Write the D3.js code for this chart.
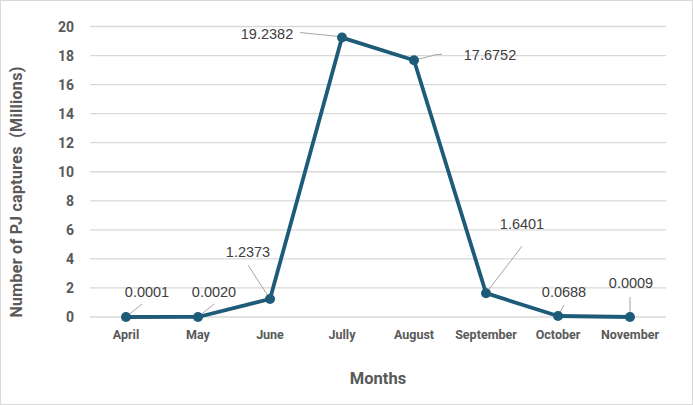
<!DOCTYPE html>
<html>
<head>
<meta charset="utf-8">
<script src="https://cdn.jsdelivr.net/npm/d3@7"></script>
<style>
  html, body { margin: 0; padding: 0; background: #fff; }
  svg { display: block; }
</style>
</head>
<body>
<script>
// ---- data ----
const months = ["April", "May", "June", "Jully", "August", "September", "October", "November"];
const captures = [0.0001, 0.0020, 1.2373, 19.2382, 17.6752, 1.6401, 0.0688, 0.0009];
const labelText = ["0.0001", "0.0020", "1.2373", "19.2382", "17.6752", "1.6401", "0.0688", "0.0009"];
const yTicks = [0, 2, 4, 6, 8, 10, 12, 14, 16, 18, 20];

// ---- layout (label offsets relative to each point, in px) ----
const labelLayout = [
  { dx: 21, dy: -25, lx: 16, ly: -13 },
  { dx: 16, dy: -25, lx: 16, ly: -13 },
  { dx: -22, dy: -47, lx: -22, ly: -34 },
  { dx: -75, dy: -4, lx: -42, ly: -5 },
  { dx: 76, dy: -5, lx: 28, ly: -6, curve: true },
  { dx: 36, dy: -69, lx: 36, ly: -47 },
  { dx: 6, dy: -24, lx: 6, ly: -11 },
  { dx: 1, dy: -34, lx: 0, ly: -20 }
];

const W = 693, H = 405;
const margin = { left: 90, right: 27, top: 26.5, bottom: 88 };
const svg = d3.select("body").append("svg").attr("width", W).attr("height", H);

svg.append("rect").attr("x", 0.5).attr("y", 0.5).attr("width", W - 1).attr("height", H - 1)
  .attr("fill", "#fff").attr("stroke", "#d9d9d9");

const x = d3.scaleBand().domain(months).range([margin.left, W - margin.right]);
const y = d3.scaleLinear().domain([0, 20]).range([H - margin.bottom, margin.top]);

// gridlines
svg.append("g").selectAll("line").data(yTicks).join("line")
  .attr("x1", margin.left).attr("x2", W - margin.right)
  .attr("y1", d => y(d)).attr("y2", d => y(d))
  .attr("stroke", "#d9d9d9").attr("stroke-width", 1.3);

// y axis labels
const yAxis = d3.axisLeft(y).tickValues(yTicks).tickSize(0).tickPadding(0);
const gy = svg.append("g").attr("transform", `translate(${margin.left - 16},0)`).call(yAxis);
gy.select(".domain").remove();
gy.selectAll("text").attr("font-family", "Roboto, sans-serif").attr("font-weight", "bold")
  .attr("font-size", 14).attr("fill", "#595959").attr("dy", "0.35em");

// x axis labels
const xAxis = d3.axisBottom(x).tickSize(0).tickPadding(0);
const gx = svg.append("g").attr("transform", `translate(0,${y(0) + 13})`).call(xAxis);
gx.select(".domain").remove();
gx.selectAll("text").attr("font-family", "Roboto, sans-serif").attr("font-weight", "bold")
  .attr("font-size", 12.5).attr("fill", "#595959").attr("dy", "0.71em");

// axis titles
svg.append("text").attr("x", (margin.left + W - margin.right) / 2).attr("y", 384)
  .attr("text-anchor", "middle").attr("font-family", "Roboto, sans-serif").attr("font-weight", "bold")
  .attr("font-size", 16.5).attr("fill", "#595959").text("Months");
svg.append("text").attr("transform", `translate(22,192) rotate(-90)`)
  .attr("text-anchor", "middle").attr("font-family", "Roboto, sans-serif").attr("font-weight", "bold")
  .attr("font-size", 16).attr("letter-spacing", 0.3).attr("fill", "#595959")
  .attr("xml:space", "preserve").text("Number of PJ captures  (Millions)");

const cx = (d, i) => x(months[i]) + x.bandwidth() / 2;

// leader lines
svg.append("g").selectAll("path").data(captures).join("path")
  .attr("d", (d, i) => {
    const px = cx(d, i), py = y(d), L = labelLayout[i];
    if (L.curve) {
      return `M${px},${py} L${px + 16},${py - 4} Q${px + 20},${py - 6} ${px + 28},${py - 6}`;
    }
    return `M${px + (i === 3 ? -2 : 0)},${py + (i === 3 ? -1 : 0)} L${px + L.lx},${py + L.ly}`;
  })
  .attr("fill", "none").attr("stroke", "#a6a6a6").attr("stroke-width", 1);

// line
const color = "#1d5b79";
svg.append("path").datum(captures)
  .attr("d", d3.line().x((d, i) => cx(d, i)).y(d => y(d)))
  .attr("fill", "none").attr("stroke", color).attr("stroke-width", 3.8).attr("stroke-linejoin", "round");

svg.append("g").selectAll("circle").data(captures).join("circle")
  .attr("cx", cx).attr("cy", d => y(d)).attr("r", 5).attr("fill", color);

// data labels
svg.append("g").selectAll("text").data(captures).join("text")
  .attr("x", (d, i) => cx(d, i) + labelLayout[i].dx)
  .attr("y", (d, i) => y(d) + labelLayout[i].dy)
  .attr("dy", "0.35em").attr("text-anchor", "middle")
  .attr("font-family", "'Liberation Sans', Arial, sans-serif").attr("font-size", 14.5)
  .attr("fill", "#404040").text((d, i) => labelText[i]);
</script>
</body>
</html>
